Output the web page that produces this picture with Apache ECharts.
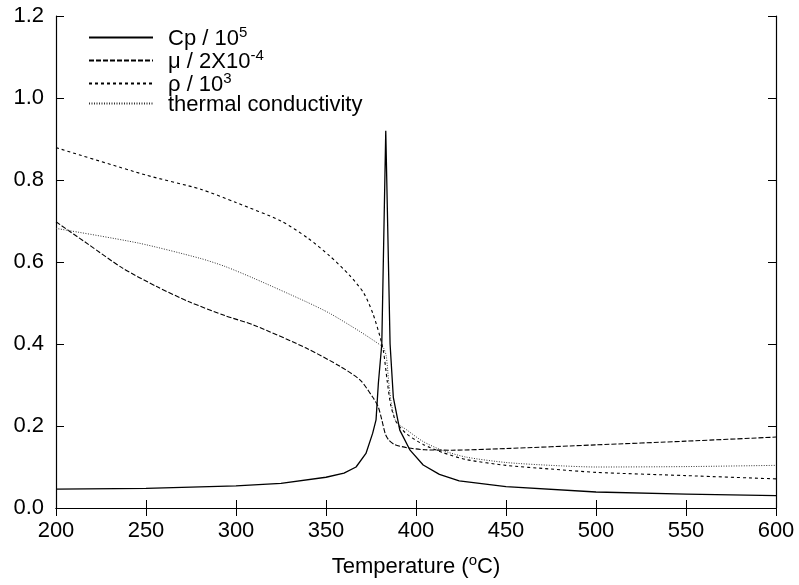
<!DOCTYPE html>
<html>
<head>
<meta charset="utf-8">
<script src="https://cdn.jsdelivr.net/npm/echarts@6/dist/echarts.min.js"></script>
<style>
  html, body { margin: 0; padding: 0; background: #fff; }
  #chart { width: 799px; height: 585px; }
</style>
</head>
<body>
<div id="chart"></div>
<script>
// 读图得到的数据 (temperature in °C)
const cpT = [200, 250, 300, 325, 350, 360, 366.7, 372.2, 375.9, 377.8, 379.1, 381, 383.2, 385.6, 387.4, 391, 396.7, 404, 413, 424, 450, 500, 550, 600];
const cpV = [0.046, 0.048, 0.054, 0.060, 0.075, 0.085, 0.100, 0.133, 0.182, 0.215, 0.305, 0.40, 0.92, 0.40, 0.27, 0.19, 0.141, 0.105, 0.082, 0.066, 0.052, 0.039, 0.034, 0.030];

const muT = [200, 218, 237, 256, 274, 294, 310, 339, 358, 369, 376, 379, 381, 383, 385, 388, 395, 405, 420, 450, 500, 550, 600];
const muV = [0.698, 0.643, 0.585, 0.54, 0.503, 0.469, 0.446, 0.39, 0.345, 0.312, 0.27, 0.247, 0.215, 0.18, 0.165, 0.155, 0.147, 0.142, 0.141, 0.145, 0.154, 0.163, 0.173];

const rhoT = [200, 250, 280, 300, 325, 340, 352, 363, 371, 376, 380, 382, 384, 386, 389, 395, 404, 415, 428, 450, 475, 500, 550, 600];
const rhoV = [0.879, 0.812, 0.778, 0.745, 0.70, 0.658, 0.615, 0.568, 0.524, 0.475, 0.418, 0.38, 0.31, 0.25, 0.21, 0.18, 0.155, 0.135, 0.118, 0.104, 0.095, 0.087, 0.079, 0.071];

const tcT = [200, 246, 280, 294, 310, 339, 352, 369, 380, 382, 383.5, 385, 386.5, 389, 395, 404, 415, 428, 450, 475, 500, 550, 600];
const tcV = [0.682, 0.646, 0.609, 0.589, 0.56, 0.503, 0.475, 0.43, 0.398, 0.39, 0.37, 0.30, 0.25, 0.21, 0.19, 0.162, 0.14, 0.124, 0.111, 0.104, 0.100, 0.101, 0.104];

const seriesNames = ['Cp', 'mu', 'rho', 'tc'];
// 图例文字，上标用 rich text
const legendLabels = {
  Cp: '{n|Cp / 10}{s|5}',
  mu: '{n|\u03bc / 2X10}{s|-4}',
  rho: '{n|\u03c1 / 10}{s|3}',
  tc: '{n|thermal conductivity}'
};

const zip = (xs, ys) => xs.map((x, i) => [x, ys[i]]);
const font = 'Liberation Sans, Arial, Helvetica, sans-serif';
const fs = 22;
const richText = {
  n: { fontFamily: font, fontSize: fs, color: '#000', lineHeight: 25, verticalAlign: 'bottom' },
  s: { fontFamily: font, fontSize: 15, color: '#000', lineHeight: 15, verticalAlign: 'top' }
};

const chart = echarts.init(document.getElementById('chart'), null, { renderer: 'canvas' });

const mkLine = (name, data, type, width, color, smooth) => ({
  name: name, type: 'line', data: data,
  showSymbol: false, symbol: 'none', animation: false,
  smooth: smooth,
  lineStyle: { color: color, width: width, type: type },
  itemStyle: { color: color }
});

const option = {
  backgroundColor: '#ffffff',
  animation: false,
  grid: { left: 56, right: 23, top: 16, bottom: 77 },
  legend: {
    orient: 'vertical', left: 83, top: 20,
    itemWidth: 64, itemHeight: 12, itemGap: -2,
    data: seriesNames,
    itemStyle: { opacity: 0 },
    formatter: name => legendLabels[name],
    textStyle: { padding: [0, 0, 0, 10], rich: richText }
  },
  xAxis: [{
    type: 'value', min: 200, max: 600, interval: 50,
    name: '{n|Temperature (}{s|o}{n|C)}', nameLocation: 'middle', nameGap: 45,
    nameTextStyle: { rich: richText },
    axisLine: { lineStyle: { color: '#000', width: 1.2 } },
    axisTick: { inside: true, length: 8, lineStyle: { color: '#000' } },
    axisLabel: { color: '#000', fontFamily: font, fontSize: fs, margin: 12 },
    splitLine: { show: false }
  }, {
    type: 'value', min: 200, max: 600, interval: 50, position: 'top',
    axisLine: { lineStyle: { color: '#000', width: 1.2 } },
    axisTick: { inside: true, length: 8, lineStyle: { color: '#000' } },
    axisLabel: { show: false },
    splitLine: { show: false }
  }],
  yAxis: [{
    type: 'value', min: 0, max: 1.2, interval: 0.2,
    axisLine: { show: true, lineStyle: { color: '#000', width: 1.2 } },
    axisTick: { show: true, inside: true, length: 8, lineStyle: { color: '#000' } },
    axisLabel: { color: '#000', fontFamily: font, fontSize: fs, margin: 12, formatter: v => v.toFixed(1) },
    splitLine: { show: false }
  }, {
    type: 'value', min: 0, max: 1.2, interval: 0.2, position: 'right',
    axisLine: { show: true, lineStyle: { color: '#000', width: 1.2 } },
    axisTick: { show: true, inside: true, length: 8, lineStyle: { color: '#000' } },
    axisLabel: { show: false },
    splitLine: { show: false }
  }],
  series: [
    mkLine('Cp', zip(cpT, cpV), 'solid', 1.3, '#000', false),
    mkLine('mu', zip(muT, muV), [5, 2], 1.1, '#000', 0.25),
    mkLine('rho', zip(rhoT, rhoV), [3, 3], 1.1, '#000', 0.25),
    mkLine('tc', zip(tcT, tcV), [1, 1.5], 1, '#333', 0.25)
  ]
};

chart.setOption(option);
</script>
</body>
</html>
